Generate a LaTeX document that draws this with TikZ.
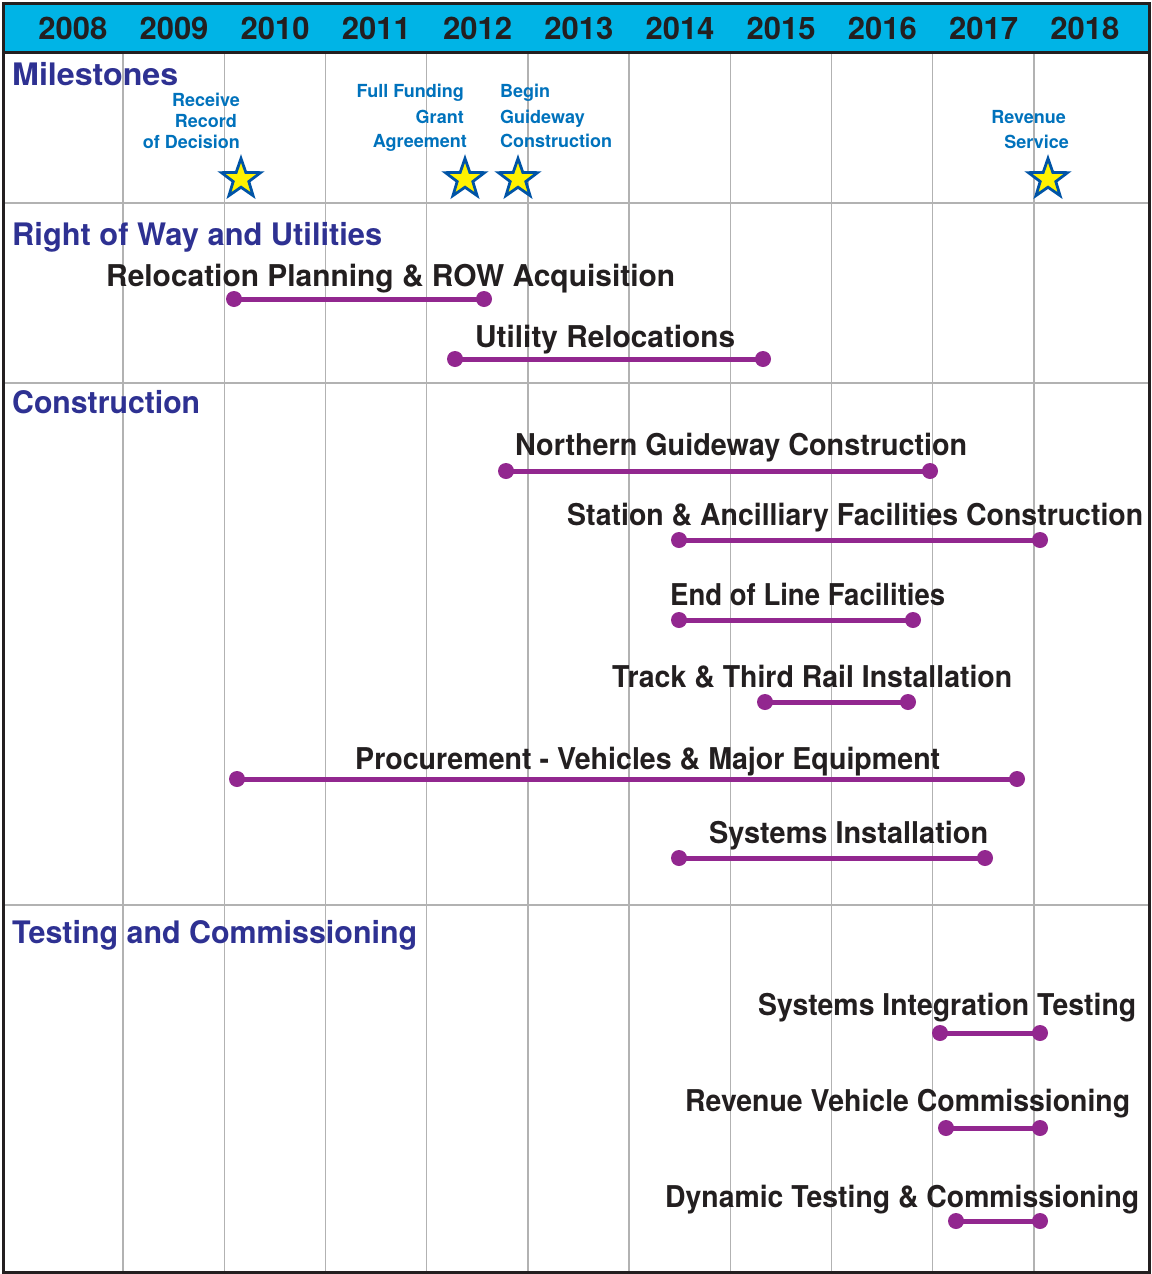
\documentclass[tikz,border=0pt]{standalone}
\usepackage{fontspec}
\setmainfont{TeX Gyre Heros}
\usetikzlibrary{shapes.geometric}
\definecolor{hdrcyan}{RGB}{0,180,230}
\definecolor{frame}{RGB}{35,31,32}
\definecolor{gridgray}{RGB}{178,178,178}
\definecolor{titleblue}{RGB}{46,49,146}
\definecolor{msblue}{RGB}{0,114,188}
\definecolor{barpurple}{RGB}{146,39,143}
\definecolor{txtblack}{RGB}{35,31,32}
\definecolor{staryellow}{RGB}{255,242,0}
\definecolor{starblue}{RGB}{0,84,166}
\begin{document}
\begin{tikzpicture}[x=1pt,y=-1pt,
  gridline/.style={draw=gridgray, line width=1.4pt},
  barline/.style={draw=barpurple, line width=5pt},
  bardot/.style={circle, fill=barpurple, inner sep=0pt, minimum size=16pt},
  barlabel/.style={font=\fontsize{30}{36}\selectfont\bfseries, text=txtblack, inner sep=0pt, anchor=base west},
  sectitle/.style={font=\fontsize{31}{36}\selectfont\bfseries, text=titleblue, inner sep=0pt, anchor=base west},
  mstext/.style={font=\fontsize{18}{21}\selectfont\bfseries, text=msblue, inner sep=0pt},
  mstar/.style={star, star points=5, star point ratio=2.5, fill=staryellow, draw=starblue, line width=2.8pt, minimum size=41pt, inner sep=0pt},
  yearlabel/.style={font=\fontsize{31}{36}\selectfont\bfseries, text=txtblack, inner sep=0pt, anchor=base}
]
\useasboundingbox (0,0) rectangle (1151,1274);
\fill[white] (0,0) rectangle (1151,1274);
% header
\fill[hdrcyan] (3,3) rectangle (1149,52);
% vertical grid
\foreach \k in {0,...,9}{
  \draw[gridline] ({123+101.2*\k},52) -- ({123+101.2*\k},1272);
}
% section separators
\foreach \yy in {203,383,905}{
  \draw[gridline] (3,\yy) -- (1149,\yy);
}
\draw[frame, line width=3pt] (3,52) -- (1149,52);
\draw[frame, line width=3pt] (3,3) rectangle (1149,1272);
% years
\foreach \yr [count=\i from 0] in {2008,2009,2010,2011,2012,2013,2014,2015,2016,2017,2018}{
  \node[yearlabel] (y\yr) at ({72.8+101.2*\i},39) {\yr};
}
% section titles
\node[sectitle] (tms) at (12,85) {\resizebox{166pt}{\height}{Milestones}};
\node[sectitle] (trow) at (12,245) {\resizebox{370pt}{\height}{Right of Way and Utilities}};
\node[sectitle] (tcon) at (12,413) {\resizebox{188pt}{\height}{Construction}};
\node[sectitle] (ttc) at (12,943) {\resizebox{405pt}{\height}{Testing and Commissioning}};
% milestones
\node[mstext, anchor=base east] (m1a) at (240,106) {Receive};
\node[mstext, anchor=base east] (m1b) at (237,127) {Record};
\node[mstext, anchor=base east] (m1c) at (240,148) {of Decision};
\node[mstext, anchor=base east] (m2a) at (464,97) {Full Funding};
\node[mstext, anchor=base east] (m2b) at (464,123) {Grant};
\node[mstext, anchor=base east] (m2c) at (467,147) {Agreement};
\node[mstext, anchor=base west] (m3a) at (500,97) {Begin};
\node[mstext, anchor=base west] (m3b) at (500,123) {Guideway};
\node[mstext, anchor=base west] (m3c) at (500,147) {Construction};
\node[mstext, anchor=base east] (m4a) at (1066,123) {Revenue};
\node[mstext, anchor=base east] (m4b) at (1069,148) {Service};
\node[mstar] (s1) at (241,179) {};
\node[mstar] (s2) at (465,179) {};
\node[mstar] (s3) at (518,179) {};
\node[mstar] (s4) at (1048,179) {};
% bars: id / start x / end x / bar y / label left x / label baseline / label width / text
\foreach \n/\xa/\xb/\yy/\lx/\ly/\w/\txt in {
  1/234/484/299/106/286/569/{Relocation Planning \& ROW Acquisition},
  2/455/763/359/475/347/260/{Utility Relocations},
  3/506/930/471/515/455/452/{Northern Guideway Construction},
  4/679/1040/540/567/525/576/{Station \& Ancilliary Facilities Construction},
  5/679/913/620/670/605/275/{End of Line Facilities},
  6/765/908/702/612/687/400/{Track \& Third Rail Installation},
  7/237/1017/779/355/769/585/{Procurement - Vehicles \& Major Equipment},
  8/679/985/858/709/843/279/{Systems Installation},
  9/940/1040/1033/758/1015/378/{Systems Integration Testing},
  10/946/1040/1128/685/1111/445/{Revenue Vehicle Commissioning},
  11/956/1040/1221/665/1207/474/{Dynamic Testing \& Commissioning}}{
  \node[bardot] (a\n) at (\xa,\yy) {};
  \node[bardot] (b\n) at (\xb,\yy) {};
  \draw[barline] (a\n.center) -- (b\n.center);
  \node[barlabel] (l\n) at (\lx,\ly) {\resizebox{\w pt}{\height}{\txt}};
}
\end{tikzpicture}
\end{document}
